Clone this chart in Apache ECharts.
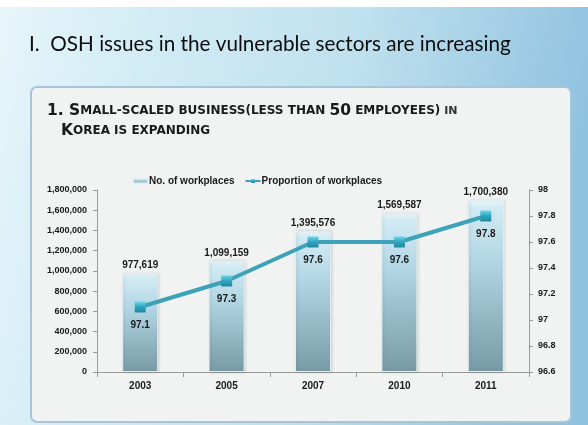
<!DOCTYPE html>
<html>
<head>
<meta charset="utf-8">
<script src="https://cdn.jsdelivr.net/npm/echarts@6/dist/echarts.min.js"></script>
<style>
html,body{margin:0;padding:0;width:588px;height:425px;overflow:hidden;}
#chart{width:588px;height:425px;}
</style>
</head>
<body>
<div id="chart"></div>
<script>
var years = ['2003', '2005', '2007', '2010', '2011'];
var workplaces = [977619, 1099159, 1395576, 1569587, 1700380];
var proportion = [97.1, 97.3, 97.6, 97.6, 97.8];
var seriesNames = ['No. of workplaces', 'Proportion of workplaces'];
var titleText = 'I.  OSH issues in the vulnerable sectors are increasing';

var chart = echarts.init(document.getElementById('chart'));
var lblFont = 'Liberation Sans';
var option = {
  animation: false,
  backgroundColor: '#ffffff',
  graphic: [
    { type: 'rect', z: -10, shape: { x: 0, y: 7, width: 588, height: 418 },
      style: { fill: new echarts.graphic.LinearGradient(0, 0, 1, 0.3, [
        { offset: 0, color: '#e6f5fa' },
        { offset: 0.25, color: '#d2ecf5' },
        { offset: 0.6, color: '#bfe0ee' },
        { offset: 1, color: '#8fc2df' }]) } },
    { type: 'rect', z: -9, shape: { x: 31, y: 87, width: 540, height: 335, r: 6 },
      style: { fill: '#f1f2f2', stroke: '#a8c4da', lineWidth: 2 } },
    { type: 'text', z: 5, left: 29, top: 34,
      style: { text: titleText, font: '20.7px Lato', fill: '#0d0d0d' } },
    { type: 'text', z: 5, left: 47, top: 103,
      style: {
        text: '{b|1. S}{s|MALL-SCALED BUSINESS(LESS THAN }{b|50}{s| EMPLOYEES)}{n| IN}\n{i|}{b|K}{s|OREA IS EXPANDING}',
        rich: {
          b: { font: 'bold 15.5px "DejaVu Sans"', fill: '#1a1a1a', lineHeight: 20 },
          s: { font: 'bold 12px "DejaVu Sans"', fill: '#1a1a1a', lineHeight: 20 },
          n: { font: 'bold 11px "DejaVu Sans"', fill: '#333333', lineHeight: 20 },
          i: { width: 14, lineHeight: 20 }
        }
      } }
  ],
  legend: {
    top: 171, left: 127,
    itemWidth: 15, itemHeight: 5, itemGap: 10,
    textStyle: { fontFamily: lblFont, fontWeight: 'bold', fontSize: 10, color: '#1a1a1a', padding: [0, 0, 0, -4] },
    data: seriesNames
  },
  grid: { left: 97, right: 59, top: 190, bottom: 53 },
  xAxis: {
    type: 'category', data: years,
    axisLine: { lineStyle: { color: '#9a9a9a' } },
    axisTick: { show: true, alignWithLabel: false, lineStyle: { color: '#9a9a9a' } },
    axisLabel: { margin: 9, fontFamily: lblFont, fontWeight: 'bold', fontSize: 10, color: '#1a1a1a' }
  },
  yAxis: [
    { type: 'value', min: 0, max: 1800000, interval: 200000,
      splitLine: { show: false },
      axisLine: { show: true, lineStyle: { color: '#9a9a9a' } },
      axisTick: { show: true, length: 4, lineStyle: { color: '#9a9a9a' } },
      axisLabel: { margin: 10, fontFamily: lblFont, fontWeight: 'bold', fontSize: 9, color: '#1a1a1a',
        formatter: function (v) { return v.toLocaleString('en-US'); } } },
    { type: 'value', min: 96.6, max: 98, interval: 0.2, position: 'right',
      splitLine: { show: false },
      axisLine: { show: true, lineStyle: { color: '#9a9a9a' } },
      axisTick: { show: true, length: 4, lineStyle: { color: '#9a9a9a' } },
      axisLabel: { margin: 9, fontFamily: lblFont, fontWeight: 'bold', fontSize: 9, color: '#1a1a1a',
        formatter: function (v) { return String(Math.round(v * 10) / 10); } } }
  ],
  series: [
    { name: seriesNames[0], type: 'bar', data: workplaces, barWidth: 36, yAxisIndex: 0,
      itemStyle: {
        color: new echarts.graphic.LinearGradient(0, 0, 0, 1, [
          { offset: 0, color: '#f2f9fb' },
          { offset: 0.04, color: '#d2ebf4' },
          { offset: 0.35, color: '#b2d6e4' },
          { offset: 1, color: '#789aa6' }]),
        borderColor: '#e3eff3', borderWidth: 1,
        shadowColor: 'rgba(0,0,0,0.15)', shadowBlur: 3, shadowOffsetX: 1
      },
      label: { show: true, position: 'top', distance: 3, fontFamily: lblFont, fontWeight: 'bold', fontSize: 10, color: '#1a1a1a',
        formatter: function (p) { return p.value.toLocaleString('en-US'); } } },
    { name: seriesNames[1], type: 'line', data: proportion, yAxisIndex: 1,
      symbol: 'rect', symbolSize: 11,
      lineStyle: { color: '#3da1b8', width: 4 },
      itemStyle: {
        color: new echarts.graphic.LinearGradient(0, 0, 0, 1, [
          { offset: 0, color: '#6fd6ea' },
          { offset: 0.5, color: '#30a4bd' },
          { offset: 1, color: '#23869c' }]),
        borderWidth: 0
      },
      label: { show: true, position: 'bottom', distance: 8, fontFamily: lblFont, fontWeight: 'bold', fontSize: 10, color: '#1a1a1a' } }
  ]
};
chart.setOption(option);
</script>
</body>
</html>
